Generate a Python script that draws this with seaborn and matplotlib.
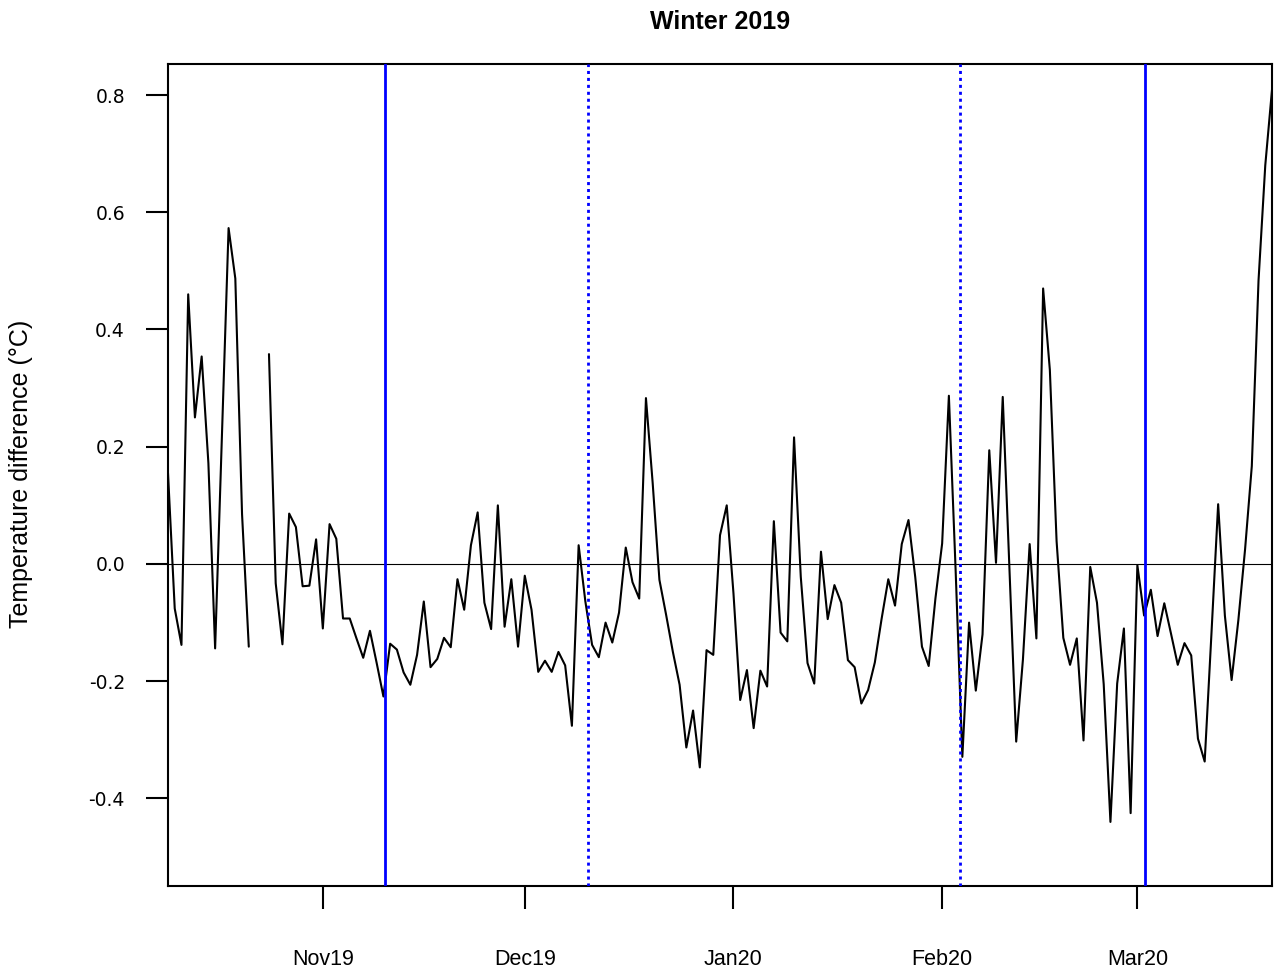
import numpy as np
import pandas as pd
import matplotlib
matplotlib.use("Agg")
import matplotlib.pyplot as plt
import seaborn as sns

# ---------------- data ----------------
start_date = pd.Timestamp("2019-10-09")
temp_diff = [
    0.155, -0.076, -0.138, 0.46, 0.25, 0.354, 0.172, -0.144, 0.215, 0.573,
    0.487, 0.085, -0.141, np.nan, np.nan, 0.358, -0.033, -0.137, 0.086, 0.063,
    -0.038, -0.037, 0.042, -0.11, 0.068, 0.043, -0.093, -0.093, -0.127, -0.160,
    -0.114, -0.169, -0.226, -0.136, -0.146, -0.185, -0.206, -0.155, -0.064, -0.176,
    -0.162, -0.126, -0.142, -0.026, -0.078, 0.032, 0.088, -0.066, -0.111, 0.1,
    -0.107, -0.026, -0.141, -0.02, -0.078, -0.184, -0.165, -0.184, -0.150, -0.173,
    -0.276, 0.032, -0.064, -0.138, -0.159, -0.1, -0.134, -0.083, 0.028, -0.031,
    -0.059, 0.283, 0.138, -0.027, -0.087, -0.150, -0.206, -0.313, -0.250, -0.347,
    -0.147, -0.155, 0.049, 0.1, -0.05, -0.232, -0.181, -0.280, -0.182, -0.209,
    0.073, -0.117, -0.132, 0.216, -0.022, -0.169, -0.204, 0.021, -0.094, -0.036,
    -0.066, -0.164, -0.176, -0.238, -0.215, -0.168, -0.094, -0.026, -0.071, 0.034,
    0.075, -0.022, -0.141, -0.174, -0.059, 0.035, 0.287, -0.01, -0.329, -0.1,
    -0.216, -0.12, 0.194, 0.002, 0.285, -0.01, -0.303, -0.163, 0.034, -0.127,
    0.470, 0.331, 0.039, -0.126, -0.172, -0.127, -0.301, -0.005, -0.066, -0.205,
    -0.44, -0.204, -0.11, -0.425, -0.002, -0.088, -0.044, -0.123, -0.067, -0.119,
    -0.172, -0.135, -0.156, -0.298, -0.337, -0.12, 0.102, -0.088, -0.198, -0.096,
    0.025, 0.167, 0.484, 0.680, 0.809,
]
month_starts = ["2019-11-01", "2019-12-01", "2020-01-01", "2020-02-01", "2020-03-01"]
month_labels = ["Nov19", "Dec19", "Jan20", "Feb20", "Mar20"]
solid_event_days = [32.3, 145.2]     # days after start_date
dotted_event_days = [62.4, 117.6]
y_ticks = [-0.4, -0.2, 0.0, 0.2, 0.4, 0.6, 0.8]
y_tick_labels = ["-0.4", "-0.2", "0.0", "0.2", "0.4", "0.6", "0.8"]
title = "Winter 2019"
y_label = "Temperature difference (\u00b0C)"

# ---------------- frame ----------------
values = np.array(temp_diff, dtype=float)
day = np.arange(len(values))
isnan = np.isnan(values)
segment = np.cumsum(isnan)  # split the line at missing values
df = pd.DataFrame({"day": day, "value": values, "segment": segment})
df = df[~isnan]

tick_days = [(pd.Timestamp(d) - start_date).days for d in month_starts]

# ---------------- plot ----------------
sns.set_theme(style="ticks")
plt.rcParams["font.family"] = ["Liberation Sans", "DejaVu Sans"]
plt.rcParams["text.color"] = "black"
plt.rcParams["axes.labelcolor"] = "black"
plt.rcParams["xtick.color"] = "black"
plt.rcParams["ytick.color"] = "black"

W, H = 1274, 969
fig = plt.figure(figsize=(W / 100, H / 100), dpi=100)
ax = fig.add_axes([168 / W, 1 - 886 / H, (1272 - 168) / W, (886 - 64) / H])

sns.lineplot(data=df, x="day", y="value", units="segment", estimator=None,
             color="black", linewidth=1.5, ax=ax, legend=False)

ax.axhline(0, color="black", linewidth=0.8, zorder=1)
for d in solid_event_days:
    ax.axvline(d, color="#0000ff", linewidth=2.0, zorder=3)
for d in dotted_event_days:
    ax.axvline(d, color="#0000ff", linewidth=2.0, linestyle=(0, (1.1, 1.4)), zorder=3)

ax.set_xlim(0, len(values) - 1)
ax.set_ylim(-0.5493, 0.8529)

ax.set_xticks(tick_days)
ax.set_xticklabels(month_labels, fontsize=15.5, family="Liberation Sans", color="black")
ax.set_yticks(y_ticks)
ax.set_yticklabels(y_tick_labels, fontsize=13.5, family="DejaVu Sans", color="black")
ax.tick_params(axis="x", length=16.5, width=1.5, pad=29, colors="black")
ax.tick_params(axis="y", length=16, width=1.5, pad=15, colors="black")
ax.set_xlabel("")
ax.set_ylabel("")

for s in ax.spines.values():
    s.set_visible(True)
    s.set_linewidth(1.5)
    s.set_color("black")
ax.grid(False)

fig.text(720 / W, 1 - 22 / H, title, ha="center", va="center", color="black",
         fontsize=18, fontweight="bold", family="Liberation Sans")
fig.text(21 / W, 1 - 474 / H, y_label, ha="center", va="center", color="black",
         rotation=90, fontsize=18, family="Liberation Sans")

fig.savefig("out.png", dpi=100, facecolor="white")
